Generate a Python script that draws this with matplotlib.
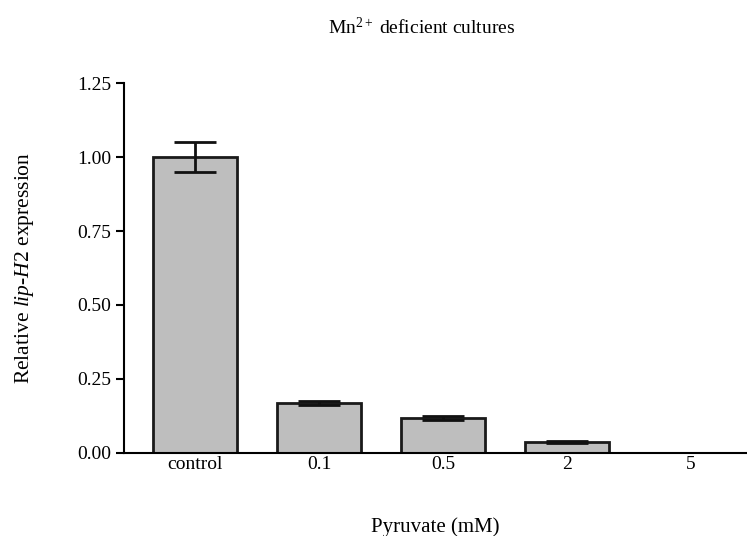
import matplotlib
matplotlib.use("Agg")
import matplotlib.pyplot as plt

plt.rcParams['font.family'] = 'Liberation Serif'
plt.rcParams['mathtext.fontset'] = 'custom'
plt.rcParams['mathtext.rm'] = 'Liberation Serif'
plt.rcParams['mathtext.it'] = 'Liberation Serif:italic'

categories = ['control', '0.1', '0.5', '2', '5']
expression = [1.0, 0.169, 0.118, 0.037, 0.0]
errors = [0.05, 0.008, 0.007, 0.003, 0.0]
yticks = [0.0, 0.25, 0.5, 0.75, 1.0, 1.25]

fig = plt.figure(figsize=(7.47, 5.36), dpi=100)
ax = fig.add_axes([0.166, 0.155, 0.834, 0.69])

x = range(len(categories))
ax.bar(x, expression, width=0.68, color='#bebebe', edgecolor='#1a1a1a', linewidth=2)
ax.errorbar(x, expression, yerr=errors, fmt='none', ecolor='#111111',
            elinewidth=2, capsize=15, capthick=2)

ax.set_xlim(-0.573, 4.45)
ax.set_ylim(0, 1.25)
ax.set_yticks(yticks)
ax.set_yticklabels(['%.2f' % v for v in yticks])
ax.set_xticks(list(x))
ax.set_xticklabels(categories)

for s in ['top', 'right']:
    ax.spines[s].set_visible(False)
ax.spines['left'].set_linewidth(1.5)
ax.spines['bottom'].set_linewidth(1.5)
ax.tick_params(axis='y', length=6, width=1.5, labelsize=14, pad=3)
ax.tick_params(axis='x', length=0, labelsize=14, pad=2)

ax.set_ylabel('Relative $\\mathit{lip}$-$\\mathit{H2}$ expression', fontsize=15.5, labelpad=30)
ax.set_xlabel('Pyruvate (mM)', fontsize=15, labelpad=32)
fig.text(0.565, 0.937, 'Mn$^{2+}$ deficient cultures', fontsize=14, ha='center')

fig.savefig('out.png', dpi=100)
